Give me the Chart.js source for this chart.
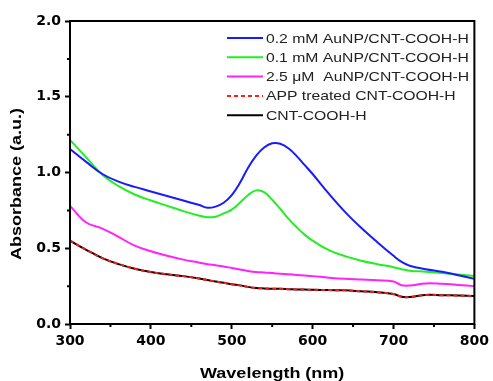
<!DOCTYPE html>
<html>
<head>
<meta charset="utf-8">
<script src="https://cdn.jsdelivr.net/npm/chart.js@4"></script>
<style>
    body { margin: 0; background: #fff; }
</style>
</head>
<body>
<canvas id="uv-chart" width="493" height="381"></canvas>
<script>
// wavelength (nm) shared by all spectra
var wavelengths = [300, 320, 340, 360, 380, 400, 420, 440, 460, 470, 480, 490, 500, 510, 520, 530, 540, 550, 560, 570, 580, 590, 600, 620, 640, 660, 680, 700, 710, 720, 740, 760, 780, 800]

var auNp02 = [1.155, 1.07, 0.99, 0.94, 0.905, 0.875, 0.845, 0.815, 0.785, 0.767, 0.775, 0.80, 0.85, 0.93, 1.03, 1.11, 1.165, 1.193, 1.19, 1.16, 1.11, 1.05, 0.99, 0.86, 0.74, 0.635, 0.54, 0.45, 0.41, 0.385, 0.362, 0.345, 0.322, 0.298]
var auNp01 = [1.215, 1.10, 0.985, 0.91, 0.855, 0.815, 0.78, 0.745, 0.715, 0.705, 0.708, 0.73, 0.755, 0.80, 0.85, 0.882, 0.87, 0.82, 0.76, 0.695, 0.64, 0.59, 0.55, 0.488, 0.448, 0.418, 0.395, 0.375, 0.362, 0.352, 0.345, 0.337, 0.327, 0.317]
var auNp25 = [0.78, 0.67, 0.63, 0.575, 0.517, 0.48, 0.45, 0.425, 0.405, 0.395, 0.388, 0.38, 0.37, 0.36, 0.35, 0.343, 0.34, 0.336, 0.332, 0.328, 0.324, 0.32, 0.316, 0.306, 0.298, 0.293, 0.288, 0.28, 0.256, 0.254, 0.268, 0.265, 0.258, 0.25]
var appTreated = [0.55, 0.49, 0.435, 0.395, 0.365, 0.343, 0.328, 0.316, 0.30, 0.29, 0.28, 0.272, 0.262, 0.255, 0.245, 0.238, 0.235, 0.233, 0.232, 0.23, 0.228, 0.227, 0.226, 0.224, 0.222, 0.216, 0.21, 0.198, 0.18, 0.178, 0.192, 0.19, 0.188, 0.185]
var cntCooh = [0.55, 0.49, 0.435, 0.395, 0.365, 0.343, 0.328, 0.316, 0.30, 0.29, 0.28, 0.272, 0.262, 0.255, 0.245, 0.238, 0.235, 0.233, 0.232, 0.23, 0.228, 0.227, 0.226, 0.224, 0.222, 0.216, 0.21, 0.198, 0.18, 0.178, 0.192, 0.19, 0.188, 0.185]

var seriesNames = ['0.2 mM AuNP/CNT-COOH-H', '0.1 mM AuNP/CNT-COOH-H', '2.5 \u03bcM  AuNP/CNT-COOH-H', 'APP treated CNT-COOH-H', 'CNT-COOH-H']
var xMinorTicks = [350, 450, 550, 650, 750]
var yMinorTicks = [0.25, 0.75, 1.25, 1.75]

var fontFam = 'Liberation Sans, Arial, sans-serif'

function toPoints(arr) {
    return wavelengths.map(function (w, i) { return { x: w, y: arr[i] } })
}

function makeSet(i, arr, color, dash) {
    return {
        label: seriesNames[i],
        data: toPoints(arr),
        borderColor: color,
        borderWidth: 2,
        borderDash: dash || [],
        pointRadius: 0,
        fill: false,
        tension: 0.4
    }
}

// the original text is a bit wider than Arial, so stretch it sideways
function wideText(ctx, txt, x, y, rot, sx) {
    ctx.save()
    ctx.translate(x, y)
    if (rot) ctx.rotate(rot)
    ctx.scale(sx, 1)
    ctx.fillText(txt, 0, 0)
    ctx.restore()
}

var extras = {
    id: 'extras',
    afterDraw: function (chart) {
        var ctx = chart.ctx
        var a = chart.chartArea
        var xs = chart.scales.x, ys = chart.scales.y
        ctx.save()
        ctx.strokeStyle = '#000'
        ctx.lineWidth = 2
        ctx.strokeRect(a.left, a.top, a.right - a.left, a.bottom - a.top)

        // minor ticks
        ctx.beginPath()
        xMinorTicks.forEach(function (v) {
            var px = xs.getPixelForValue(v)
            ctx.moveTo(px, a.bottom)
            ctx.lineTo(px, a.bottom + 3)
        })
        yMinorTicks.forEach(function (v) {
            var py = ys.getPixelForValue(v)
            ctx.moveTo(a.left, py)
            ctx.lineTo(a.left - 3, py)
        })
        ctx.stroke()

        // legend inside the plot
        ctx.font = '13px ' + fontFam
        ctx.textBaseline = 'middle'
        ctx.textAlign = 'left'
        chart.data.datasets.forEach(function (ds, i) {
            var y = a.top + 17 + i * 19.3
            ctx.strokeStyle = ds.borderColor
            ctx.lineWidth = 2
            ctx.setLineDash(ds.borderDash)
            ctx.beginPath()
            ctx.moveTo(227, y)
            ctx.lineTo(263, y)
            ctx.stroke()
            ctx.setLineDash([])
            ctx.fillStyle = '#222'
            wideText(ctx, ds.label, 266, y + 1, 0, 1.21)
        })

        // axis titles
        ctx.fillStyle = '#000'
        ctx.font = 'bold 15px ' + fontFam
        ctx.textAlign = 'center'
        wideText(ctx, 'Wavelength (nm)', (a.left + a.right) / 2, 374, 0, 1.2)
        wideText(ctx, 'Absorbance (a.u.)', 17, 184, -Math.PI / 2, 1.2)
        ctx.restore()
    }
}

var tickFont = { family: 'DejaVu Sans', size: 14, weight: 'bold' }

var uvChart = new Chart(document.getElementById('uv-chart'), {
    type: 'line',
    data: {
        datasets: [
            makeSet(0, auNp02, '#1a1aff'),
            makeSet(1, auNp01, '#22ee22'),
            makeSet(2, auNp25, '#ff22ff'),
            makeSet(3, appTreated, '#ff1a1a', [4, 3]),
            makeSet(4, cntCooh, '#000000')
        ]
    },
    options: {
        responsive: false,
        animation: false,
        layout: { padding: { top: 21, right: 17, left: 0, bottom: 0 } },
        plugins: { legend: { display: false }, tooltip: { enabled: false } },
        scales: {
            x: {
                type: 'linear',
                min: 300,
                max: 800,
                afterFit: function (s) { s.height = 57 },
                ticks: { stepSize: 100, color: '#000', font: tickFont, padding: 4 },
                grid: { drawOnChartArea: false, tickLength: 5, tickColor: '#000', tickWidth: 2 },
                border: { display: false }
            },
            y: {
                min: 0,
                max: 2,
                afterFit: function (s) { s.width = 70 },
                ticks: {
                    stepSize: 0.5, color: '#000', font: tickFont, padding: 4,
                    callback: function (v) { return v.toFixed(1) }
                },
                grid: { drawOnChartArea: false, tickLength: 5, tickColor: '#000', tickWidth: 2 },
                border: { display: false }
            }
        }
    },
    plugins: [extras]
})
</script>
</body>
</html>
